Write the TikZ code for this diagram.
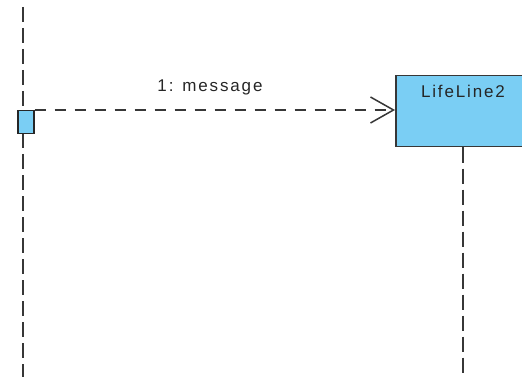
\documentclass[tikz,border=0pt]{standalone}
\usepackage{fontspec}
\setmainfont{Liberation Sans}[LetterSpace=11]
\usetikzlibrary{arrows.meta}
\definecolor{lifeblue}{RGB}{122,206,244}
\definecolor{linegray}{RGB}{55,55,55}
\tikzset{
  lifeline/.style={draw=linegray, line width=2pt, dash pattern=on 15pt off 6pt},
  msgline/.style={draw=linegray, line width=1.5pt, dash pattern=on 11pt off 9pt,
    -{Straight Barb[length=23pt,width=26pt,line width=1.5pt]}},
  actbox/.style={draw=black!85, fill=lifeblue, line width=1.5pt, inner sep=0pt,
    minimum width=16pt, minimum height=23pt},
  headbox/.style={draw=linegray, fill=lifeblue, line width=1.5pt, inner sep=0pt,
    minimum width=160pt, minimum height=71pt},
  lbl/.style={font=\fontsize{17pt}{19pt}\selectfont, text=black!85, inner sep=0pt}
}
\begin{document}
\begin{tikzpicture}[x=1pt,y=1pt]
\useasboundingbox (0,0) rectangle (522,-377);
\coordinate (l1top) at (23,-7);
\coordinate (l1bot) at (23,-377);
\draw[lifeline] (l1top) -- (l1bot);
\node[actbox, anchor=north west] (act) at (17,-110) {};
\node[headbox, anchor=north west] (ll2) at (395,-75) {};
\node[lbl, anchor=base] (ll2t) at (463,-98) {LifeLine2};
\coordinate (l2bot) at (463,-377);
\draw[lifeline] (ll2.south -| l2bot) -- (l2bot);
\draw[msgline] (act.north east) -- (ll2.west |- act.north east);
\node[lbl, anchor=base] (msg) at (210,-92) {1: message};
\end{tikzpicture}
\end{document}
